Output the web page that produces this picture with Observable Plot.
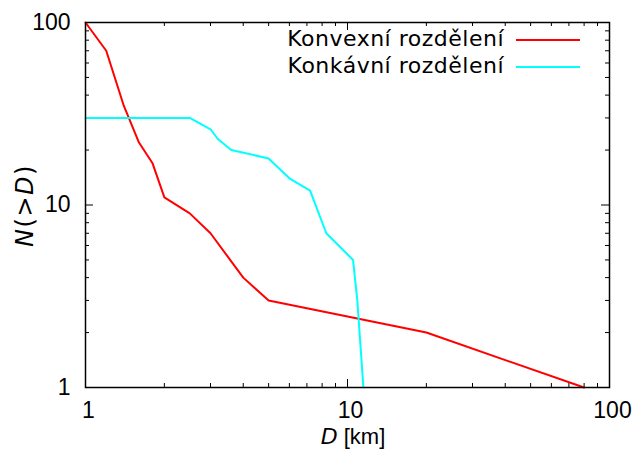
<!DOCTYPE html>
<html><head><meta charset="utf-8">
<script src="https://cdn.jsdelivr.net/npm/d3@7"></script>
<script src="https://cdn.jsdelivr.net/npm/@observablehq/plot@0.6"></script>
<style>
body{margin:0;background:#fff;}
#wrap{position:relative;width:636px;height:451px;font-family:"DejaVu Sans",sans-serif;}
#legend{position:absolute;left:0;width:580px;top:25px;font-size:22px;letter-spacing:0.5px;color:#000;}
#legend .row{display:flex;align-items:center;justify-content:flex-end;height:27px;}
#legend .sw{display:inline-block;width:64px;height:2px;margin-left:12px;margin-top:3px;}
</style></head><body><div id="wrap"></div>
<script>
const convexD = [1, 1.2, 1.4, 1.6, 1.8, 2, 2.5, 3, 4, 5, 20, 80];
const convexN = [100, 70, 35, 22, 17, 11, 9, 7, 4, 3, 2, 1];
const concaveD = [1, 2.5, 3, 3.2, 3.6, 5, 6, 7.2, 8.3, 10.5, 10.9, 11.5];
const concaveN = [30, 30, 26, 23, 20, 18, 14, 12, 7, 5, 3, 1];
const seriesNames = ["Konvexní rozdělení", "Konkávní rozdělení"];
const seriesColors = ["#ff0000", "#00ffff"];
const majorTicks = [1, 10, 100];
const minorTicks = [2, 3, 4, 5, 6, 7, 8, 9, 20, 30, 40, 50, 60, 70, 80, 90];

const W = 636, H = 451;
const mL = 85, mR = 27, mT = 22, mB = 64;
const fw = W - mL - mR, fh = H - mT - mB;

const convex = convexD.map((d, i) => ({D: d, N: convexN[i], s: seriesNames[0]}));
const concave = concaveD.map((d, i) => ({D: d, N: concaveN[i], s: seriesNames[1]}));

const tickStyle = {stroke: "#000", strokeWidth: 1};
const chart = Plot.plot({
  width: W, height: H,
  marginLeft: mL, marginRight: mR, marginTop: mT, marginBottom: mB,
  style: {fontFamily: "Liberation Sans", fontSize: "23px", background: "#fff", color: "#000"},
  x: {type: "log", domain: [1, 100]},
  y: {type: "log", domain: [1, 100]},
  marks: [
    // ticks (inward, mirrored)
    Plot.tickX(majorTicks, {x: d => d, insetTop: fh - 8, ...tickStyle}),
    Plot.tickX(majorTicks, {x: d => d, insetBottom: fh - 8, ...tickStyle}),
    Plot.tickX(minorTicks, {x: d => d, insetTop: fh - 4, ...tickStyle}),
    Plot.tickX(minorTicks, {x: d => d, insetBottom: fh - 4, ...tickStyle}),
    Plot.tickY(majorTicks, {y: d => d, insetRight: fw - 8, ...tickStyle}),
    Plot.tickY(majorTicks, {y: d => d, insetLeft: fw - 8, ...tickStyle}),
    Plot.tickY(minorTicks, {y: d => d, insetRight: fw - 4, ...tickStyle}),
    Plot.tickY(minorTicks, {y: d => d, insetLeft: fw - 4, ...tickStyle}),
    Plot.axisX({anchor: "bottom", ticks: majorTicks, tickSize: 0, tickPadding: 14, dx: 3, tickFormat: d => String(d), label: null, fontSize: 23}),
    Plot.axisY({anchor: "left", ticks: majorTicks, tickSize: 0, tickPadding: 15, tickFormat: d => String(d), label: null, fontSize: 23}),
    Plot.line(convex, {x: "D", y: "N", stroke: seriesColors[0], strokeWidth: 2}),
    Plot.line(concave, {x: "D", y: "N", stroke: seriesColors[1], strokeWidth: 2}),
    Plot.frame({stroke: "#000", strokeWidth: 1.5})
  ]
});

const wrap = document.getElementById("wrap");
wrap.appendChild(chart);

// axis titles
const svg = d3.select(chart);
const xt = svg.append("text").attr("x", 353).attr("y", 444)
  .attr("text-anchor", "middle").attr("font-size", 22).attr("fill", "#000");
xt.append("tspan").attr("font-family", "DejaVu Sans").attr("font-style", "italic").text("D");
xt.append("tspan").attr("font-family", "Liberation Sans").text(" [km]");
const yt = svg.append("text").attr("transform", `translate(33,205.5) rotate(-90)`)
  .attr("text-anchor", "middle").attr("font-size", 24).attr("letter-spacing", "1.5px")
  .attr("font-family", "DejaVu Sans").attr("fill", "#000").attr("font-style", "italic");
yt.append("tspan").text("N");
yt.append("tspan").attr("font-style", "normal").text("(>");
yt.append("tspan").text("D");
yt.append("tspan").attr("font-style", "normal").text(")");

// legend
const leg = document.createElement("div");
leg.id = "legend";
seriesNames.forEach((name, i) => {
  const row = document.createElement("div");
  row.className = "row";
  const t = document.createElement("span");
  t.textContent = name;
  const sw = document.createElement("span");
  sw.className = "sw";
  sw.style.background = seriesColors[i];
  row.appendChild(t);
  row.appendChild(sw);
  leg.appendChild(row);
});
wrap.appendChild(leg);
</script></body></html>
